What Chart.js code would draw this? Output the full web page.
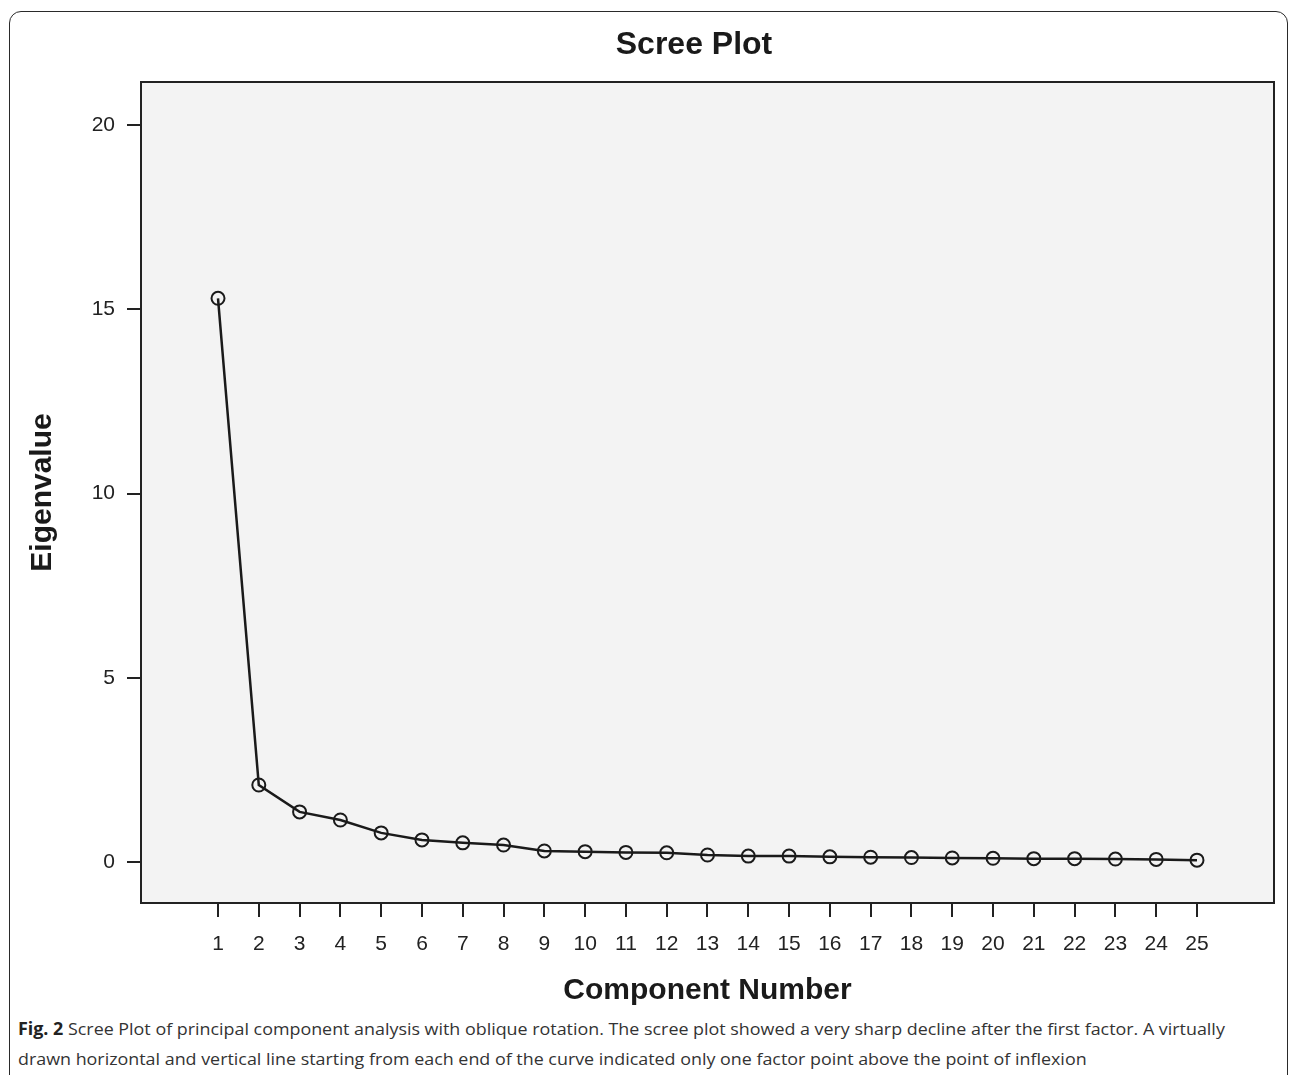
<!DOCTYPE html>
<html>
<head>
<meta charset="utf-8">
<title>Scree Plot</title>
<script src="https://cdn.jsdelivr.net/npm/chart.js@4.4.1/dist/chart.umd.min.js"></script>
<style>
  html, body { margin: 0; padding: 0; background: #fff; overflow: hidden; }
  #frame {
    position: absolute; left: 9px; top: 11px; width: 1279px; height: 1120px;
    border: 1.5px solid #2a2a2a; border-radius: 12px; box-sizing: border-box;
  }
  #chart1 { position: absolute; left: 0; top: 0; }
  #caption {
    position: absolute; left: 18px; top: 1014px;
    font-family: "Open Sans", "Noto Sans", sans-serif; font-size: 17px;
    line-height: 30px; color: #333; white-space: nowrap;
  }
  #caption span { display: inline-block; transform-origin: left center; }
  #caption b { color: #222; }
</style>
</head>
<body>
<div id="frame"></div>
<canvas id="chart1" width="1292" height="1010"></canvas>
<div id="caption">
  <span id="cap1"><b>Fig. 2</b> Scree Plot of principal component analysis with oblique rotation. The scree plot showed a very sharp decline after the first factor. A virtually</span><br>
  <span id="cap2">drawn horizontal and vertical line starting from each end of the curve indicated only one factor point above the point of inflexion</span>
</div>

<script>
// scree plot data
const components = [1, 2, 3, 4, 5, 6, 7, 8, 9, 10, 11, 12, 13, 14, 15, 16, 17, 18, 19, 20, 21, 22, 23, 24, 25];
const eigenvalues = [15.30, 2.09, 1.36, 1.14, 0.79, 0.60, 0.52, 0.46, 0.30, 0.28, 0.26, 0.25, 0.19,
                     0.16, 0.16, 0.14, 0.13, 0.12, 0.11, 0.10, 0.09, 0.09, 0.08, 0.07, 0.05];
const yTicks = [0, 5, 10, 15, 20];

const titleText = 'Scree Plot';
const ink = '#222';
const font = '"Liberation Sans", Arial, Helvetica, sans-serif';

// grey plot background, box round it and the title
const plotFrame = {
  id: 'plotFrame',
  beforeDraw(chart) {
    const { ctx, chartArea: a } = chart;
    ctx.save();
    ctx.fillStyle = '#f3f3f3';
    ctx.fillRect(a.left, a.top, a.width, a.height);
    ctx.restore();
  },
  afterDraw(chart) {
    const { ctx, chartArea: a } = chart;
    ctx.save();
    ctx.strokeStyle = ink;
    ctx.lineWidth = 2;
    ctx.strokeRect(a.left, a.top, a.width, a.height);
    ctx.fillStyle = '#1a1a1a';
    ctx.font = 'bold 32px ' + font;
    ctx.textAlign = 'center';
    ctx.textBaseline = 'middle';
    ctx.fillText(titleText, 694, 45);
    ctx.restore();
  }
};

const ctx = document.getElementById('chart1').getContext('2d');
const screeChart = new Chart(ctx, {
  type: 'line',
  data: {
    datasets: [
      {
        label: 'Eigenvalue',
        data: components.map((c, i) => ({ x: c, y: eigenvalues[i] })),
        borderColor: '#1a1a1a',
        borderWidth: 2.5,
        pointRadius: 6.5,
        pointBorderWidth: 2,
        pointBorderColor: '#1a1a1a',
        pointBackgroundColor: 'rgba(0,0,0,0)',
        tension: 0,
        fill: false
      }
    ]
  },
  options: {
    responsive: false,
    animation: false,
    devicePixelRatio: 1,
    layout: { padding: { top: 82, right: 18, left: 0, bottom: 0 } },
    plugins: {
      legend: { display: false },
      tooltip: { enabled: false }
    },
    scales: {
      x: {
        type: 'linear',
        min: -0.888,
        max: 26.888,
        afterBuildTicks: (scale) => { scale.ticks = components.map(v => ({ value: v })); },
        afterFit: (scale) => { scale.height = 107; },
        grid: { drawOnChartArea: false, drawTicks: true, tickLength: 14, color: ink, lineWidth: 2 },
        border: { display: false },
        ticks: { color: ink, padding: 15, autoSkip: false, maxRotation: 0, font: { family: font, size: 21 } },
        title: {
          display: true, text: 'Component Number', color: '#1a1a1a',
          font: { family: font, size: 30, weight: 'bold' }, padding: { top: 0, bottom: 1 }
        }
      },
      y: {
        min: -1.113,
        max: 21.17,
        afterBuildTicks: (scale) => { scale.ticks = yTicks.map(v => ({ value: v })); },
        afterFit: (scale) => { scale.width = 141; },
        grid: { drawOnChartArea: false, drawTicks: true, tickLength: 14, color: ink, lineWidth: 2 },
        border: { display: false },
        ticks: { color: ink, padding: 12, font: { family: font, size: 21 } },
        title: {
          display: true, text: 'Eigenvalue', color: '#1a1a1a',
          font: { family: font, size: 30, weight: 'bold' }, padding: { top: 25, bottom: 0 }
        }
      }
    }
  },
  plugins: [plotFrame]
});

// squeeze the caption lines to the width of the original
const cap1 = document.getElementById('cap1');
const cap2 = document.getElementById('cap2');
const k = 1207 / cap1.offsetWidth;
cap1.style.transform = `scaleX(${k})`;
cap2.style.transform = `scaleX(${k})`;
</script>
</body>
</html>
